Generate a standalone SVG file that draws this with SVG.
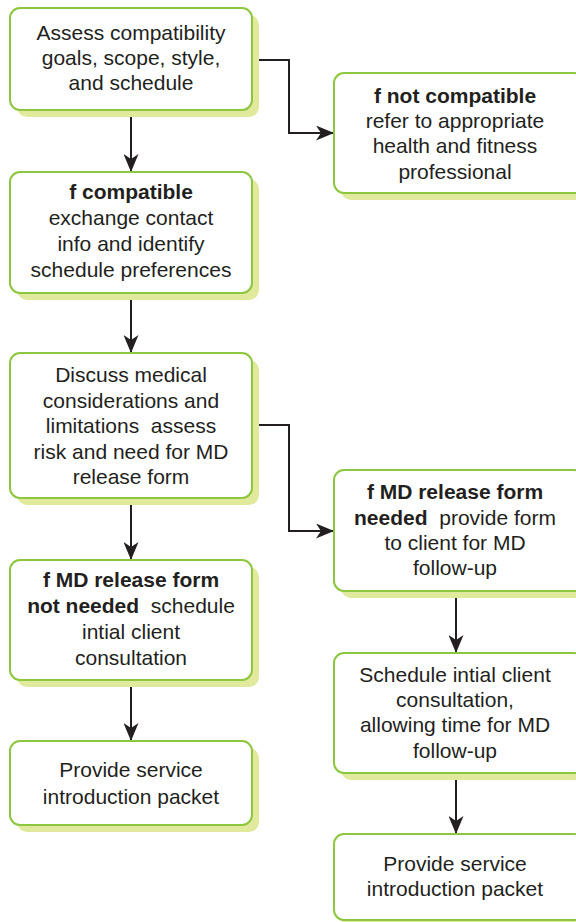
<svg xmlns="http://www.w3.org/2000/svg" width="576" height="922" viewBox="0 0 576 922">
<defs>
<style>
.sh{fill:#e1e99c}
.bx{fill:#fff;stroke:#8dc63f;stroke-width:2}
text{font-family:"Liberation Sans",Arial,Helvetica,sans-serif;font-size:21px;fill:#231f20;text-anchor:middle}
.b{font-weight:bold}
.c{fill:none;stroke:#231f20;stroke-width:2}
</style>
<marker id="ah" markerWidth="18" markerHeight="15" refX="17" refY="7.5" orient="auto" markerUnits="userSpaceOnUse">
<path d="M0,0 L18,7.5 L0,15 L5,7.5 Z" fill="#231f20"/>
</marker>
</defs>
<rect width="576" height="922" fill="#fff"/>
<g id="connectors">
<path class="c" d="M131,111 V171" marker-end="url(#ah)"/>
<path class="c" d="M253,60 H289 V133 H333" marker-end="url(#ah)"/>
<path class="c" d="M131,294 V352" marker-end="url(#ah)"/>
<path class="c" d="M253,425 H289 V531 H333" marker-end="url(#ah)"/>
<path class="c" d="M131,499 V559" marker-end="url(#ah)"/>
<path class="c" d="M131,681 V740" marker-end="url(#ah)"/>
<path class="c" d="M456,592 V652" marker-end="url(#ah)"/>
<path class="c" d="M456,774 V833" marker-end="url(#ah)"/>
</g>
<g id="n1">
<rect class="sh" x="17" y="15" width="242" height="102" rx="10"/>
<rect class="bx" x="10" y="8" width="242" height="102" rx="10"/>
<text x="131" y="40">Assess compatibility</text>
<text x="131" y="65">goals, scope, style,</text>
<text x="131" y="90">and schedule</text>
</g>
<g id="n2">
<rect class="sh" x="341" y="80" width="250" height="120" rx="10"/>
<rect class="bx" x="334" y="73" width="250" height="120" rx="10"/>
<text x="455" y="103" class="b">f not compatible</text>
<text x="455" y="128">refer to appropriate</text>
<text x="455" y="153">health and fitness</text>
<text x="455" y="179">professional</text>
</g>
<g id="n3">
<rect class="sh" x="17" y="179" width="242" height="121" rx="10"/>
<rect class="bx" x="10" y="172" width="242" height="121" rx="10"/>
<text x="131" y="199" class="b">f compatible</text>
<text x="131" y="225">exchange contact</text>
<text x="131" y="251">info and identify</text>
<text x="131" y="277">schedule preferences</text>
</g>
<g id="n4">
<rect class="sh" x="17" y="360" width="242" height="145" rx="10"/>
<rect class="bx" x="10" y="353" width="242" height="145" rx="10"/>
<text x="131" y="382">Discuss medical</text>
<text x="131" y="408">considerations and</text>
<text x="131" y="433" xml:space="preserve">limitations  assess</text>
<text x="131" y="459">risk and need for MD</text>
<text x="131" y="484">release form</text>
</g>
<g id="n5">
<rect class="sh" x="17" y="567" width="242" height="120" rx="10"/>
<rect class="bx" x="10" y="560" width="242" height="120" rx="10"/>
<text x="131" y="587" class="b">f MD release form</text>
<text x="131" y="613" xml:space="preserve"><tspan class="b">not needed</tspan>  schedule</text>
<text x="131" y="639">intial client</text>
<text x="131" y="665">consultation</text>
</g>
<g id="n6">
<rect class="sh" x="17" y="748" width="242" height="84" rx="10"/>
<rect class="bx" x="10" y="741" width="242" height="84" rx="10"/>
<text x="131" y="777">Provide service</text>
<text x="131" y="804">introduction packet</text>
</g>
<g id="n7">
<rect class="sh" x="341" y="477" width="250" height="121" rx="10"/>
<rect class="bx" x="334" y="470" width="250" height="121" rx="10"/>
<text x="455" y="499" class="b">f MD release form</text>
<text x="455" y="525" xml:space="preserve"><tspan class="b">needed</tspan>  provide form</text>
<text x="455" y="550">to client for MD</text>
<text x="455" y="575">follow-up</text>
</g>
<g id="n8">
<rect class="sh" x="341" y="660" width="250" height="120" rx="10"/>
<rect class="bx" x="334" y="653" width="250" height="120" rx="10"/>
<text x="455" y="682">Schedule intial client</text>
<text x="455" y="707">consultation,</text>
<text x="455" y="732">allowing time for MD</text>
<text x="455" y="758">follow-up</text>
</g>
<g id="n9">
<rect class="sh" x="341" y="841" width="250" height="86" rx="10"/>
<rect class="bx" x="334" y="834" width="250" height="86" rx="10"/>
<text x="455" y="871">Provide service</text>
<text x="455" y="896">introduction packet</text>
</g>
</svg>
